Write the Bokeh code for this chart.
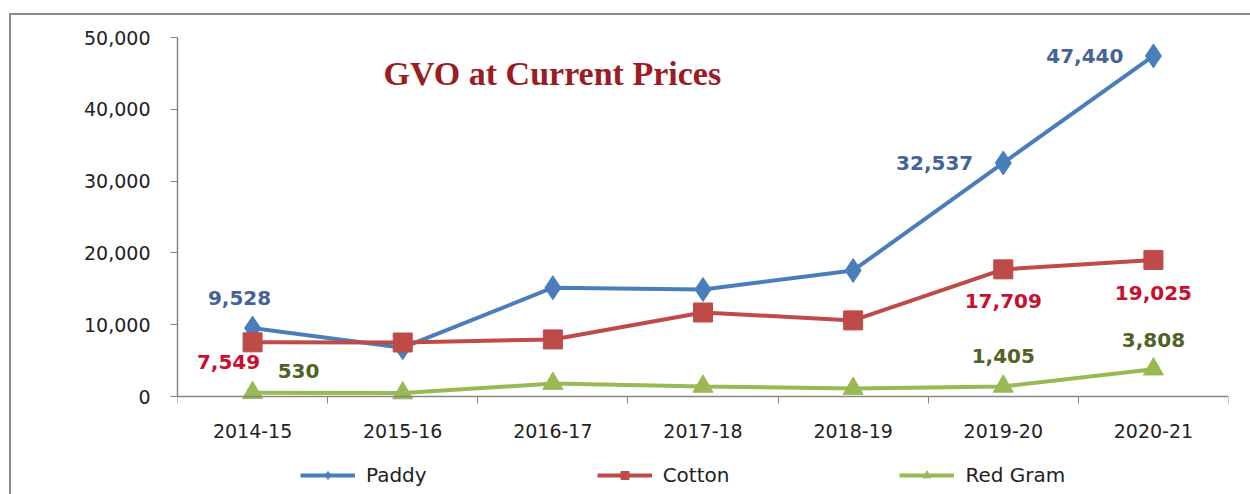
from bokeh.plotting import figure
from bokeh.models import (ColumnDataSource, FixedTicker, NumeralTickFormatter,
                          Label, Legend, LegendItem, Range1d)
from bokeh.embed import file_html
from bokeh.resources import INLINE

# ---- data ----
years = ["2014-15", "2015-16", "2016-17", "2017-18", "2018-19", "2019-20", "2020-21"]
paddy = [9528, 6800, 15150, 14900, 17550, 32537, 47440]
cotton = [7549, 7520, 7950, 11700, 10600, 17709, 19025]
red_gram = [530, 480, 1800, 1400, 1100, 1405, 3808]
y_ticks = [0, 10000, 20000, 30000, 40000, 50000]
title_text = "GVO at Current Prices"

# ---- label placement styles: (index, align, x_offset, y_offset) ----
paddy_lbl = [(0, "center", -13, 30), (5, "right", -30, 0), (6, "right", -30, 0)]
cotton_lbl = [(0, "center", -24, -20), (5, "center", 0, -32), (6, "center", 0, -33)]
red_lbl = [(0, "center", 46, 22), (5, "center", 0, 30), (6, "center", 0, 29)]

FONT = "DejaVu Sans"
AXIS_COLOR = "#868686"
FRAME = "#8a8a8a"

Y_MAX = y_ticks[-1]
# frame spans 37..494 px; value axis (0..Y_MAX) spans 37..396 px
Y_MIN = Y_MAX - Y_MAX * (494 - 37) / (396 - 37)

xs = [i + 0.5 for i in range(len(years))]
src = ColumnDataSource(dict(x=xs, paddy=paddy, cotton=cotton, red=red_gram))

p = figure(width=1250, height=494, output_backend="svg", toolbar_location=None,
           x_range=Range1d(0, len(years)), y_range=Range1d(Y_MIN, Y_MAX),
           min_border_left=177, min_border_right=22, min_border_top=37, min_border_bottom=0)
p.xgrid.grid_line_color = None
p.ygrid.grid_line_color = None
p.outline_line_color = None
p.border_fill_alpha = 0
p.styles = {
    "background": (f"linear-gradient({FRAME},{FRAME}) 9px 13px / 2px 100% no-repeat, "
                   f"linear-gradient({FRAME},{FRAME}) 9px 13px / 100% 2px no-repeat, white"),
}

# axes
xa = p.xaxis[0]
xa.fixed_location = 0
xa.ticker = FixedTicker(ticks=xs, minor_ticks=list(range(len(years) + 1)))
xa.major_label_overrides = {x: y for x, y in zip(xs, years)}
xa.major_tick_line_color = None
xa.minor_tick_line_color = AXIS_COLOR
xa.minor_tick_out = 7
xa.minor_tick_in = 0
xa.axis_line_color = AXIS_COLOR
xa.axis_line_width = 1.5
xa.major_label_text_font = FONT
xa.major_label_text_font_size = "19px"
xa.major_label_text_color = "#222222"
xa.major_label_standoff = 20

ya = p.yaxis[0]
ya.bounds = (0, Y_MAX)
ya.ticker = FixedTicker(ticks=y_ticks)
ya.formatter = NumeralTickFormatter(format="0,0")
ya.minor_tick_line_color = None
ya.major_tick_line_color = AXIS_COLOR
ya.major_tick_out = 7
ya.major_tick_in = 0
ya.axis_line_color = AXIS_COLOR
ya.axis_line_width = 1.5
ya.major_label_text_font = FONT
ya.major_label_text_font_size = "19px"
ya.major_label_text_color = "#222222"
ya.major_label_standoff = 20

# series
series = [
    ("Paddy", "paddy", paddy, "#4A7EBB", "#44639A", "diamond", 24, paddy_lbl),
    ("Cotton", "cotton", cotton, "#BE4B48", "#C8102E", "square", 19, cotton_lbl),
    ("Red Gram", "red", red_gram, "#98B954", "#4F6228", "triangle", 20, red_lbl),
]
items = []
for name, col, vals, color, lcolor, marker, size, lbls in series:
    ln = p.line("x", col, source=src, line_color=color, line_width=4)
    sc = p.scatter("x", col, source=src, marker=marker, size=size,
                   fill_color=color, line_color=color)
    items.append(LegendItem(label=name, renderers=[ln, sc]))
    for idx, align, dx, dy in lbls:
        p.add_layout(Label(x=xs[idx], y=vals[idx], text="{:,}".format(vals[idx]),
                           text_align=align, text_baseline="middle",
                           x_offset=dx, y_offset=dy, text_font=FONT,
                           text_font_size="20px", text_font_style="bold",
                           text_color=lcolor))

# title inside plot
p.add_layout(Label(x=1.372, y=45000, text=title_text, text_align="left",
                   text_baseline="middle", text_font="Liberation Serif",
                   text_font_size="34px", text_font_style="bold",
                   text_color="#9B1C22"))

legend = Legend(items=items, orientation="horizontal", location=(123, 7),
                glyph_width=55, glyph_height=20, label_standoff=11, spacing=170,
                padding=0, margin=0, border_line_color=None,
                background_fill_alpha=0,
                label_text_font=FONT, label_text_font_size="20px",
                label_text_color="#222222")
p.add_layout(legend, "center")

open("out.html", "w").write(file_html(p, INLINE))
